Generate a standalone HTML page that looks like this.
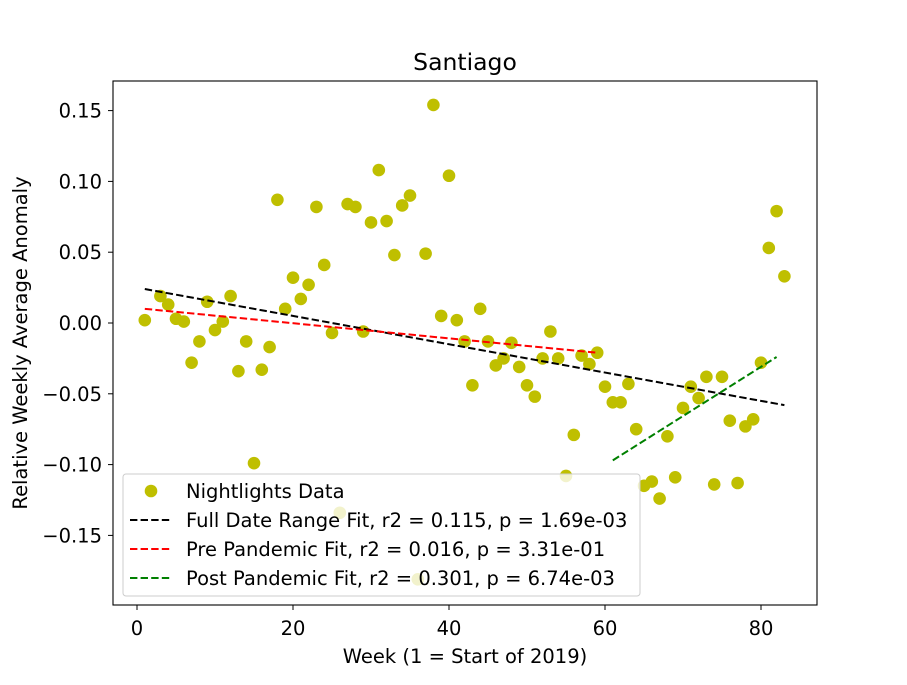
<!DOCTYPE html>
<html><head><meta charset="utf-8"><style>
body{margin:0;background:#fff;}
text{font-family:"DejaVu Sans","Liberation Sans",sans-serif;fill:#000;}
</style></head><body>
<svg id="chart" width="907" height="680" viewBox="0 0 907 680" xmlns="http://www.w3.org/2000/svg">
<rect width="907" height="680" fill="#fff"/>
<g id="marks"></g>
<g id="axes"></g>
</svg>
<script>
const weeks=[1,3,4,5,6,7,8,9,10,11,12,13,14,15,16,17,18,19,20,21,22,23,24,25,26,27,28,29,30,31,32,33,34,35,36,37,38,39,40,41,42,43,44,45,46,47,48,49,50,51,52,53,54,55,56,57,58,59,60,61,62,63,64,65,66,67,68,69,70,71,72,73,74,75,76,77,78,79,80,81,82,83];
const values=[0.002,0.019,0.013,0.003,0.001,-0.028,-0.013,0.015,-0.005,0.001,0.019,-0.034,-0.013,-0.099,-0.033,-0.017,0.087,0.010,0.032,0.017,0.027,0.082,0.041,-0.007,-0.134,0.084,0.082,-0.006,0.071,0.108,0.072,0.048,0.083,0.090,-0.181,0.049,0.154,0.005,0.104,0.002,-0.013,-0.044,0.010,-0.013,-0.030,-0.025,-0.014,-0.031,-0.044,-0.052,-0.025,-0.006,-0.025,-0.108,-0.079,-0.023,-0.029,-0.021,-0.045,-0.056,-0.056,-0.043,-0.075,-0.115,-0.112,-0.124,-0.080,-0.109,-0.060,-0.045,-0.053,-0.038,-0.114,-0.038,-0.069,-0.113,-0.073,-0.068,-0.028,0.053,0.079,0.033];
const fullFit=[[1,0.024],[83,-0.058]];
const preFit=[[1,0.010],[59,-0.021]];
const postFit=[[61,-0.097],[82,-0.024]];
const xTicks=[0,20,40,60,80];
const yTicks=[0.15,0.10,0.05,0.00,-0.05,-0.10,-0.15];
const yTickLabels=["0.15","0.10","0.05","0.00","−0.05","−0.10","−0.15"];
const legendLabels=["Nightlights Data","Full Date Range Fit, r2 = 0.115, p = 1.69e-03","Pre Pandemic Fit, r2 = 0.016, p = 3.31e-01","Post Pandemic Fit, r2 = 0.301, p = 6.74e-03"];

const L=113,R=817,T=81,B=605;
const X=w=>137+(w-0)*7.8;
const Y=v=>323-v*1416;
const NS="http://www.w3.org/2000/svg";
function mk(tag,attrs,parent){const e=document.createElementNS(NS,tag);for(const k in attrs)e.setAttribute(k,attrs[k]);parent.appendChild(e);return e;}
const marks=document.getElementById('marks'),axes=document.getElementById('axes');
const FS=19.5;

weeks.forEach((w,i)=>{
  const c=mk('circle',{cx:X(w),cy:Y(values[i]),r:6.3,fill:'#bfbf00'},marks);
  
  
});
function fit(arr,color,name){
  const l=mk('line',{x1:X(arr[0][0]),y1:Y(arr[0][1]),x2:X(arr[1][0]),y2:Y(arr[1][1]),stroke:color,'stroke-width':2,'stroke-dasharray':'7.4,3.2'},marks);
  
  
}
fit(fullFit,'#000','full-range-fit-line');
fit(preFit,'#ff0000','pre-pandemic-fit-line');
fit(postFit,'#008000','post-pandemic-fit-line');

const frame=mk('rect',{x:L,y:T,width:R-L,height:B-T,fill:'none',stroke:'#000','stroke-width':1.1},axes);


xTicks.forEach(t=>{
  mk('line',{x1:X(t),y1:B,x2:X(t),y2:B+5,stroke:'#000'},axes);
  const tx=mk('text',{x:X(t),y:B+30,'text-anchor':'middle','font-size':FS},axes);
  tx.textContent=t;
  
  
});
yTicks.forEach((t,i)=>{
  mk('line',{x1:L-5,y1:Y(t),x2:L,y2:Y(t),stroke:'#000'},axes);
  const tx=mk('text',{x:L-11,y:Y(t)+7,'text-anchor':'end','font-size':FS},axes);
  tx.textContent=yTickLabels[i];
  
  
});
let t=mk('text',{x:465,y:70,'text-anchor':'middle','font-size':23.5},axes);t.textContent='Santiago';


t=mk('text',{x:465,y:663,'text-anchor':'middle','font-size':FS},axes);t.textContent='Week (1 = Start of 2019)';


t=mk('text',{x:0,y:0,'text-anchor':'middle','font-size':FS,transform:'translate(27,343) rotate(-90)'},axes);t.textContent='Relative Weekly Average Anomaly';



const lg=mk('g',{},axes);


mk('rect',{x:123,y:474,width:517,height:122,rx:3,fill:'#fff','fill-opacity':0.8,stroke:'#ccc'},lg);
const colors=[null,'#000','#ff0000','#008000'];
legendLabels.forEach((s,i)=>{
  const y=491+i*29;
  if(i===0){mk('circle',{cx:151,cy:y,r:6.3,fill:'#bfbf00'},lg);}
  else mk('line',{x1:130,y1:y,x2:172,y2:y,stroke:colors[i],'stroke-width':2,'stroke-dasharray':'7.4,3.2'},lg);
  const tx=mk('text',{x:186,y:y+7,'font-size':FS},lg);tx.textContent=s;
  
  
});
</script>
</body></html>
